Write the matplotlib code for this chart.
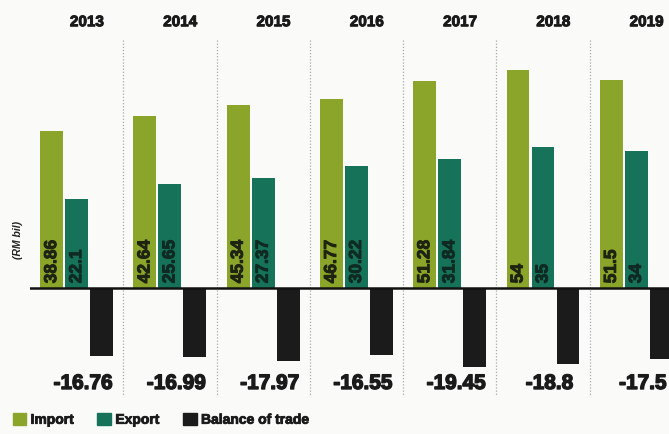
import matplotlib
matplotlib.use("Agg")
import matplotlib.pyplot as plt
import matplotlib.patheffects as pe
from matplotlib.patches import Patch

years = ["2013", "2014", "2015", "2016", "2017", "2018", "2019"]
imports = [38.86, 42.64, 45.34, 46.77, 51.28, 54, 51.5]
exports = [22.1, 25.65, 27.37, 30.22, 31.84, 35, 34]
balance = [-16.76, -16.99, -17.97, -16.55, -19.45, -18.8, -17.5]
import_labels = ["38.86", "42.64", "45.34", "46.77", "51.28", "54", "51.5"]
export_labels = ["22.1", "25.65", "27.37", "30.22", "31.84", "35", "34"]
balance_labels = ["-16.76", "-16.99", "-17.97", "-16.55", "-19.45", "-18.8", "-17.5"]

c_imp = "#8ba52a"
c_exp = "#17725a"
c_bal = "#1b1b1b"
bg = "#fafaf8"

fig = plt.figure(figsize=(6.69, 4.34), dpi=100, facecolor=bg)
ax = fig.add_axes([30 / 669, 0, 1 - 30 / 669, 1])
ax.set_facecolor(bg)
ax.set_xlim(-0.5, 6.35)
ax.set_ylim(-36.1, 71.3)
for s in ax.spines.values():
    s.set_visible(False)
ax.set_xticks([])
ax.set_yticks([])

x = list(range(len(years)))
w = 0.245
off = 0.268
ax.bar([i - off for i in x], imports, width=w, color=c_imp, zorder=2)
ax.bar(x, exports, width=w, color=c_exp, zorder=2)
ax.bar([i + off for i in x], balance, width=w, color=c_bal, zorder=2)

ax.axhline(0, color="#111111", lw=1.8, zorder=3)

for i in range(len(years) - 1):
    ax.plot([i + 0.5, i + 0.5], [61.5, -26.5], color="#aaaaaa", lw=0.9,
            ls=(0, (1, 1.5)), zorder=1)

font = "Liberation Sans"


def heavy(c, lw=0.7):
    return [pe.withStroke(linewidth=lw, foreground=c)]


for i in x:
    ax.text(i - off, 1.2, import_labels[i], rotation=90, ha="center", va="bottom",
            fontsize=12.5, fontweight="bold", color="#1e2410", family=font, zorder=4,
            path_effects=heavy("#1e2410"))
    ax.text(i, 1.2, export_labels[i], rotation=90, ha="center", va="bottom",
            fontsize=12.5, fontweight="bold", color="#0f2a22", family=font, zorder=4,
            path_effects=heavy("#0f2a22"))
    ax.text(i + 0.07, -23.6, balance_labels[i], ha="center", va="center",
            fontsize=15, fontweight="bold", color="#1a1a1a", family=font, zorder=4,
            path_effects=heavy("#1a1a1a", 1.0))
    ax.text(i + 0.11, 65.8, years[i], ha="center", va="center",
            fontsize=11, fontweight="bold", color="#1a1a1a", family=font, zorder=4,
            path_effects=heavy("#1a1a1a"))

fig.text(18 / 669, 1 - 240 / 434, "(RM bil)", rotation=90, ha="center", va="center",
         fontsize=7.5, fontstyle="italic", fontweight="bold", color="#222222", family=font)

handles = [Patch(color=c_imp, label="Import"),
           Patch(color=c_exp, label="Export"),
           Patch(color=c_bal, label="Balance of trade")]
leg = fig.legend(handles=handles, loc="lower left", bbox_to_anchor=(0.0, -0.012), ncol=3,
                 frameon=False, handlelength=1.0, handleheight=1.0, handletextpad=0.3,
                 columnspacing=1.7, prop={"family": font, "weight": "bold", "size": 10})
for t in leg.get_texts():
    t.set_path_effects(heavy("#1a1a1a", 0.6))
    t.set_color("#1a1a1a")

fig.savefig("out.png", dpi=100, facecolor=bg)
